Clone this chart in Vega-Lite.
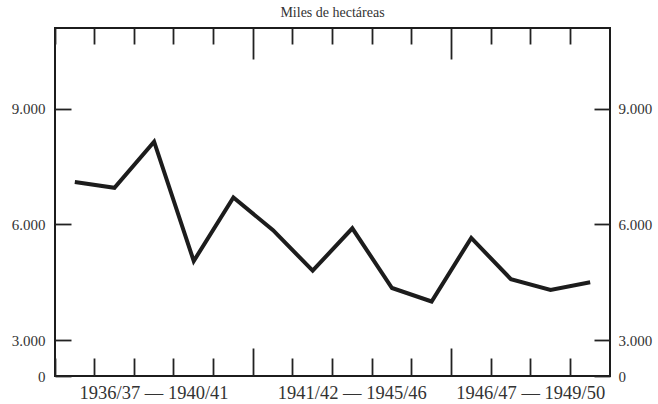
{
  "$schema": "https://vega.github.io/schema/vega-lite/v6.json",
  "autosize": "none",
  "width": 555,
  "height": 348,
  "padding": {"left": 55, "top": 28, "right": 48, "bottom": 28},
  "background": "white",
  "title": {"text": "Miles de hectáreas", "font": "Liberation Serif", "fontSize": 14, "fontWeight": "normal", "color": "#333", "anchor": "middle", "offset": 7},
  "data": {"values": [
    {"year": "1936/37", "ha": 7100},
    {"year": "1937/38", "ha": 6950},
    {"year": "1938/39", "ha": 8150},
    {"year": "1939/40", "ha": 5050},
    {"year": "1940/41", "ha": 6700},
    {"year": "1941/42", "ha": 5850},
    {"year": "1942/43", "ha": 4800},
    {"year": "1943/44", "ha": 5900},
    {"year": "1944/45", "ha": 4350},
    {"year": "1945/46", "ha": 4000},
    {"year": "1946/47", "ha": 5650},
    {"year": "1947/48", "ha": 4580},
    {"year": "1948/49", "ha": 4300},
    {"year": "1949/50", "ha": 4500}
  ]},
  "layer": [
    {
      "mark": {"type": "line", "color": "#1c1c1c", "strokeWidth": 4, "strokeJoin": "miter"},
      "encoding": {
        "x": {"field": "year", "type": "ordinal", "bandPosition": 0.5,
          "scale": {"type": "band", "paddingInner": 0, "paddingOuter": 0},
          "axis": {"orient": "bottom", "title": null, "domain": false, "bandPosition": 0,
            "tickColor": "#222", "tickWidth": 1.8,
            "tickSize": {"condition": {"test": "datum.value == '1941/42' || datum.value == '1946/47'", "value": -28}, "value": -18},
            "labelExpr": "datum.value == '1938/39' ? '1936/37 — 1940/41' : datum.value == '1943/44' ? '1941/42 — 1945/46' : datum.value == '1948/49' ? '1946/47 — 1949/50' : ''",
            "labelOffset": {"condition": {"test": "datum.value == '1948/49'", "value": -19.8}, "value": 0},
            "labelAngle": 0, "labelAlign": "center", "labelOverlap": false, "labelLimit": 0,
            "labelFont": "Liberation Serif", "labelFontSize": 18.5, "labelColor": "#333", "labelPadding": 25}},
        "y": {"field": "ha", "type": "quantitative",
          "scale": {"domain": [0, 3000, 11100], "range": [348, 312, 0], "zero": false, "nice": false},
          "axis": {"orient": "left", "title": null, "domain": false, "values": [0, 3000, 6000, 9000],
            "tickSize": -16, "tickColor": "#222", "tickWidth": 1.8, "grid": false,
            "labelExpr": "replace(format(datum.value, ','), ',', '.')",
            "labelFont": "Liberation Serif", "labelFontSize": 15, "labelColor": "#333", "labelPadding": 26}}
      }
    },
    {
      "mark": {"type": "line", "strokeOpacity": 0},
      "encoding": {
        "x": {"field": "year", "type": "ordinal", "bandPosition": 0.5,
          "axis": {"orient": "top", "title": null, "domain": false, "bandPosition": 0, "labels": false,
            "tickColor": "#222", "tickWidth": 1.8,
            "tickSize": {"condition": {"test": "datum.value == '1941/42' || datum.value == '1946/47'", "value": -31}, "value": -16}}},
        "y": {"field": "ha", "type": "quantitative",
          "axis": {"orient": "right", "title": null, "domain": false, "values": [0, 3000, 6000, 9000],
            "tickSize": -16, "tickColor": "#222", "tickWidth": 1.8, "grid": false,
            "labelExpr": "replace(format(datum.value, ','), ',', '.')",
            "labelFont": "Liberation Serif", "labelFontSize": 15, "labelColor": "#333", "labelPadding": 24}}
      }
    }
  ],
  "resolve": {"axis": {"x": "independent", "y": "independent"}},
  "config": {"view": {"stroke": "#1c1c1c", "strokeWidth": 2}}
}
